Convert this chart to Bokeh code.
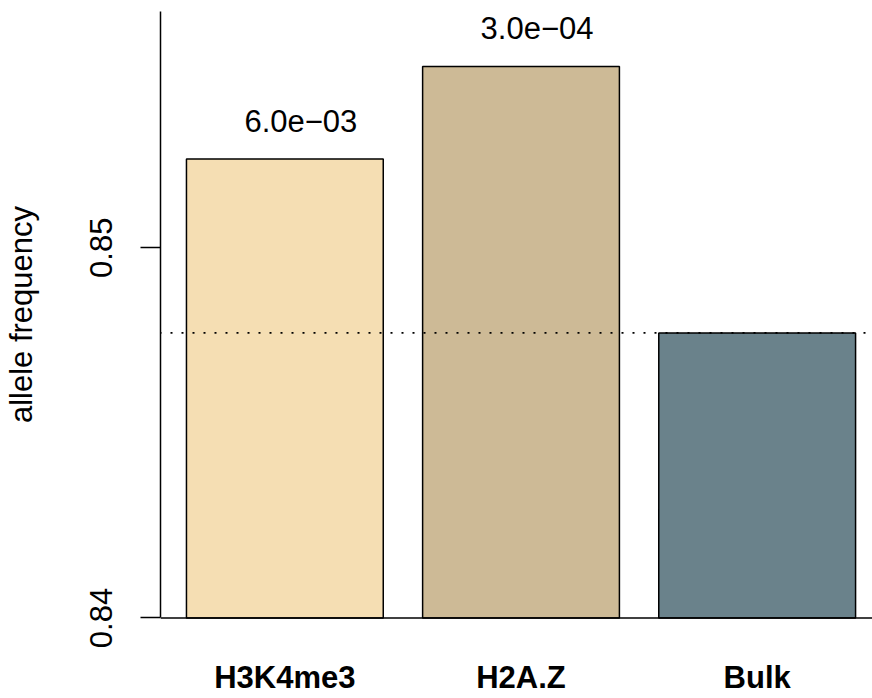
from bokeh.plotting import figure
from bokeh.models import FixedTicker, Span, Range1d, ColumnDataSource
from bokeh.core.properties import value
from bokeh.embed import file_html
from bokeh.resources import INLINE

# data
categories = ["H3K4me3", "H2A.Z", "Bulk"]
freqs = [0.8524, 0.8549, 0.8477]
pvalue_labels = ["6.0e\u221203", "3.0e\u221204", ""]
colors = ["#f5deb3", "#cdba96", "#6a828b"]
y_ticks = [0.84, 0.85]
baseline = 0.84
axis_top = 0.85639

# R barplot-style positions: width 1, space 0.2
centers = [round(0.7 + 1.2 * i, 2) for i in range(len(categories))]

src = ColumnDataSource(dict(x=centers, top=freqs, cat=categories,
                            lab=pvalue_labels, color=colors))

FONT = "Liberation Sans"

p = figure(width=872, height=698, output_backend="svg", toolbar_location=None,
           x_range=Range1d(0.0681, 3.686), y_range=Range1d(0.839716, 0.85668),
           min_border_left=160, min_border_right=0,
           min_border_top=0, min_border_bottom=70)
p.outline_line_color = None
p.grid.visible = False
p.background_fill_color = "white"
p.border_fill_color = "white"

p.vbar(x="x", width=1.0, top="top", bottom=baseline, source=src,
       fill_color="color", line_color="black", line_width=1.5)

# baseline line
p.add_layout(Span(location=baseline, dimension="width", line_color="black",
                  line_width=1.5))
# dotted reference line at Bulk value
p.add_layout(Span(location=freqs[2], dimension="width", line_color="black",
                  line_width=1.8, line_dash="2 9", line_dash_offset=1))

# p-value labels above bars
p.text(x="x", y="top", text="lab", source=src, text_align="center",
       text_baseline="middle", x_offset=16, y_offset=-38,
       text_font=value(FONT), text_font_size="31px", text_color="black")

# category axis (labels only)
xa = p.xaxis[0]
xa.ticker = FixedTicker(ticks=centers)
xa.major_label_overrides = {c: name for c, name in zip(centers, categories)}
xa.axis_line_color = None
xa.major_tick_line_color = None
xa.minor_tick_line_color = None
xa.major_tick_out = 0
xa.major_tick_in = 0
xa.major_label_standoff = 31
xa.major_label_text_font = FONT
xa.major_label_text_font_size = "31px"
xa.major_label_text_font_style = "bold"
xa.major_label_text_color = "black"

ax = p.yaxis[0]
ax.ticker = FixedTicker(ticks=y_ticks)
ax.bounds = (baseline, axis_top)
ax.major_tick_out = 20
ax.major_tick_in = 0
ax.minor_tick_line_color = None
ax.axis_line_width = 1.5
ax.major_tick_line_width = 1.5
ax.axis_line_color = "black"
ax.major_tick_line_color = "black"
ax.major_label_orientation = "vertical"
ax.major_label_standoff = 28
ax.major_label_text_font = FONT
ax.major_label_text_font_size = "31px"
ax.major_label_text_color = "black"
ax.axis_label = "allele frequency"
ax.axis_label_text_font = FONT
ax.axis_label_text_font_size = "31px"
ax.axis_label_text_font_style = "normal"
ax.axis_label_text_color = "black"
ax.axis_label_standoff = 49

open("out.html", "w").write(file_html(p, INLINE))
